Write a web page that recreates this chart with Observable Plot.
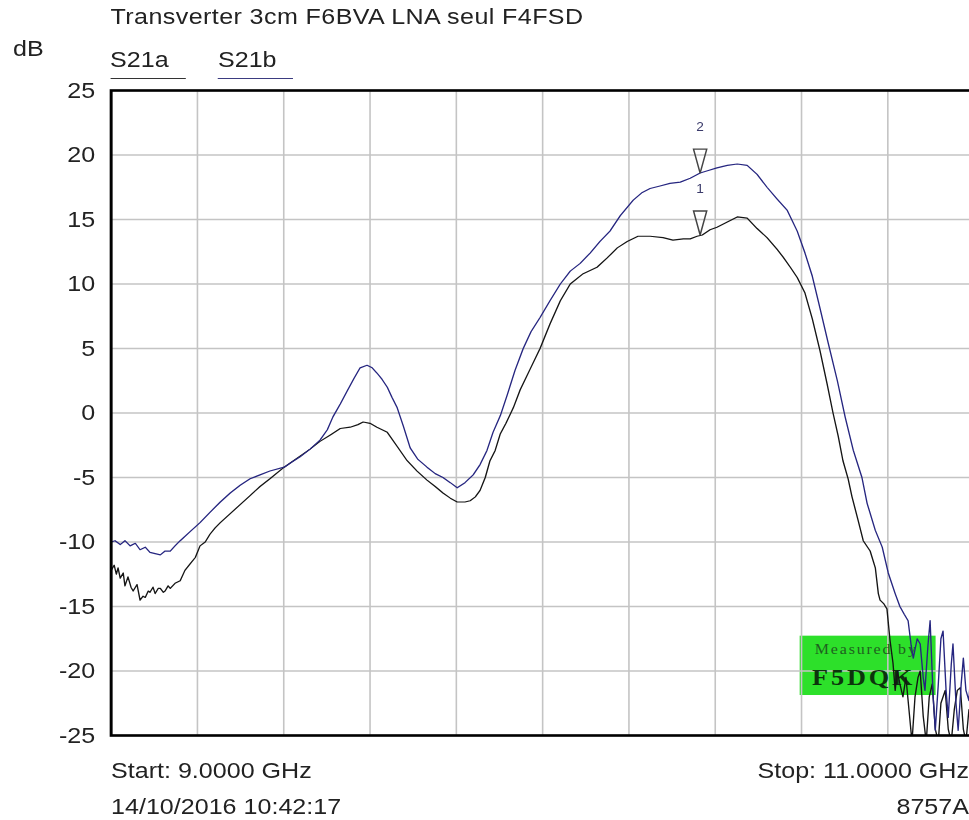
<!DOCTYPE html>
<html>
<head>
<meta charset="utf-8">
<script src="https://cdn.jsdelivr.net/npm/d3@7"></script>
<script src="https://cdn.jsdelivr.net/npm/@observablehq/plot@0.6"></script>
<style>
html, body { margin: 0; padding: 0; background: #fff; overflow: hidden; width: 969px; height: 820px; }
#wrap { position: absolute; left: 0; top: 0; width: 858px; height: 820px; transform: scaleX(1.14); transform-origin: 0 0;
        font-family: "Liberation Sans", Arial, sans-serif; color: #222; }
#wrap svg { position: absolute; left: 0; top: 0; }
.t { position: absolute; white-space: nowrap; font-size: 22px; line-height: 22px; }
.u { position: absolute; height: 0; border-top: 1.6px solid #333; }
</style>
</head>
<body>
<div id="wrap"></div>
<script>
// ---- data (frequency in MHz, magnitude in dB) ----
const freqA = [9000,9007,9012,9016,9021,9028,9032,9039,9046,9051,9060,9067,9074,9079,9086,9090,9097,9102,9109,9114,
  9121,9125,9132,9137,9148,9160,9171,9183,9195,9206,9218,9229,9241,9253,9276,9299,9322,9345,9368,9401,
  9431,9461,9484,9508,9531,9554,9572,9584,9600,9616,9640,9663,9686,9709,9732,9751,9769,9786,9802,9820,
  9832,9844,9855,9867,9878,9890,9902,9915,9932,9948,9971,9994,10017,10041,10064,10094,10126,10149,10173,10196,
  10221,10249,10279,10302,10326,10342,10358,10370,10388,10404,10428,10451,10474,10497,10520,10543,10557,10574,10590,10608,
  10625,10643,10659,10673,10685,10696,10708,10717,10731,10743,10759,10771,10778,10782,10791,10798,10805,10812,10817,10822,
  10828,10835,10842,10849,10856,10863,10870,10875,10882,10889,10896,10903,10910,10917,10923,10933,10940,10947,10954,10961,
  10968,10975,10981,10988];
const s21a = [-12.2,-11.8,-12.5,-12.0,-12.8,-12.4,-13.4,-12.7,-13.5,-13.8,
  -13.3,-14.5,-14.2,-14.3,-13.8,-13.9,-13.5,-14.0,-13.6,-13.6,
  -13.9,-13.8,-13.4,-13.6,-13.2,-13.0,-12.2,-11.7,-11.2,-10.3,
  -10.0,-9.4,-8.9,-8.5,-7.8,-7.1,-6.4,-5.7,-5.1,-4.2,
  -3.5,-2.8,-2.2,-1.7,-1.2,-1.1,-0.9,-0.7,-0.8,-1.1,
  -1.5,-2.6,-3.7,-4.5,-5.2,-5.7,-6.2,-6.6,-6.9,-6.9,
  -6.8,-6.5,-6.0,-5.0,-3.7,-2.9,-1.6,-0.8,0.4,1.8,
  3.4,5.0,6.9,8.7,10.0,10.8,11.3,12.0,12.8,13.3,
  13.7,13.7,13.6,13.4,13.5,13.5,13.7,13.8,14.2,14.4,
  14.8,15.2,15.1,14.3,13.6,12.7,12.1,11.3,10.5,9.3,
  7.3,4.8,2.3,0.0,-1.8,-3.7,-5.1,-6.5,-8.3,-9.9,
  -10.7,-12.0,-14.0,-14.5,-14.8,-15.2,-17.6,-19.4,-21.5,-20.0,
  -21.0,-22.0,-20.5,-23.0,-25.5,-22.0,-20.5,-20.0,-23.5,-25.5,
  -22.0,-21.0,-24.5,-25.5,-22.5,-21.5,-24.5,-25.5,-23.0,-21.5,
  -21.3,-24.5,-25.5,-23.0];

const freqB = [9000,9009,9021,9032,9044,9056,9067,9079,9090,9102,9114,9125,9137,9148,9160,9183,9206,9229,9253,9276,
  9299,9322,9345,9368,9401,9419,9438,9461,9484,9501,9514,9531,9547,9563,9577,9593,9605,9616,9628,9640,
  9651,9663,9677,9693,9711,9732,9751,9769,9786,9802,9820,9839,9855,9871,9885,9902,9918,9936,9955,9973,
  9994,10017,10041,10064,10087,10110,10133,10156,10180,10210,10231,10249,10272,10295,10319,10342,10365,10384,10404,10428,
  10451,10474,10497,10520,10543,10567,10590,10608,10625,10643,10662,10683,10701,10720,10740,10752,10771,10787,10801,10817,
  10828,10838,10847,10854,10859,10868,10875,10882,10886,10893,10898,10905,10910,10917,10923,10928,10935,10940,10947,10951,
  10958,10963,10970,10975,10981,10988,10995,11000];
const s21b = [-10.0,-9.9,-10.2,-9.9,-10.3,-10.1,-10.6,-10.4,-10.8,-10.9,
  -11.0,-10.7,-10.7,-10.3,-9.9,-9.2,-8.5,-7.7,-6.9,-6.2,
  -5.6,-5.1,-4.8,-4.5,-4.2,-3.8,-3.4,-2.8,-2.1,-1.3,
  -0.3,0.7,1.7,2.7,3.5,3.7,3.5,3.1,2.6,2.0,
  1.2,0.4,-1.0,-2.7,-3.6,-4.2,-4.7,-5.0,-5.4,-5.8,
  -5.4,-4.8,-4.0,-2.9,-1.5,-0.2,1.4,3.3,5.0,6.3,
  7.4,8.7,10.0,11.0,11.6,12.4,13.3,14.1,15.3,16.5,
  17.1,17.4,17.6,17.8,17.9,18.2,18.6,18.8,19.0,19.2,
  19.3,19.2,18.5,17.5,16.6,15.7,14.1,12.4,10.6,8.1,
  5.4,2.5,-0.3,-2.9,-5.0,-7.0,-9.1,-10.4,-12.4,-14.0,
  -15.0,-15.6,-16.1,-18.0,-19.0,-17.5,-17.9,-20.5,-21.5,-18.0,
  -16.1,-22.0,-24.6,-21.0,-17.5,-16.9,-21.5,-23.6,-19.5,-17.9,
  -22.5,-24.6,-21.0,-19.0,-21.5,-22.3,-18.5,-20.0];

const yTicks = [-25, -20, -15, -10, -5, 0, 5, 10, 15, 20, 25];
const xGridGHz = [9.0, 9.2, 9.4, 9.6, 9.8, 10.0, 10.2, 10.4, 10.6, 10.8, 11.0];

const markerFreq = [10365, 10365];
const markerVal = [13.8, 18.6];
const markerLabel = ["1", "2"];

const seriesNames = ["S21a", "S21b"];
const titleText = "Transverter 3cm F6BVA LNA seul F4FSD";
const yUnit = "dB";
const startText = "Start: 9.0000 GHz";
const stopText = "Stop: 11.0000 GHz";
const dateText = "14/10/2016 10:42:17";
const modelText = "8757A";
const stampLines = ["Measured by", "F5DQK"];
const stampBox = [{x1: 10597, x2: 10912, y1: -21.9, y2: -17.3}];
const stampTextPos = [{f: 10750, v: -18.3}, {f: 10744, v: -20.55}];

// ---- build tables ----
const rowsA = freqA.map((f, i) => ({f: f / 1000, v: s21a[i]}));
const rowsB = freqB.map((f, i) => ({f: f / 1000, v: s21b[i]}));
const markers = markerFreq.map((f, i) => ({f: f / 1000, v: markerVal[i], label: markerLabel[i]}));
const stampRect = stampBox.map(d => ({x1: d.x1 / 1000, x2: d.x2 / 1000, y1: d.y1, y2: d.y2}));
const stampT1 = [{f: stampTextPos[0].f / 1000, v: stampTextPos[0].v, t: stampLines[0]}];
const stampT2 = [{f: stampTextPos[1].f / 1000, v: stampTextPos[1].v, t: stampLines[1]}];

const markerSymbol = {
  draw(ctx) {
    ctx.moveTo(0, 0);
    ctx.lineTo(-5.8, -24);
    ctx.lineTo(5.8, -24);
    ctx.closePath();
  }
};

const chart = Plot.plot({
  width: 858,
  height: 745,
  marginLeft: 97,
  marginRight: 4,
  marginTop: 90,
  marginBottom: 10,
  x: {domain: [9, 11], axis: null},
  y: {domain: [-25, 25], axis: null},
  style: {fontFamily: "'Liberation Sans', Arial, sans-serif", background: "transparent", color: "#222", overflow: "visible"},
  marks: [
    Plot.rect(stampRect, {x1: "x1", x2: "x2", y1: "y1", y2: "y2", fill: "#2de02a"}),
    Plot.ruleX(xGridGHz, {stroke: "#c4c4c4", strokeWidth: 1.4}),
    Plot.ruleY(yTicks, {stroke: "#c4c4c4", strokeWidth: 1.6}),
    Plot.text(stampT1, {x: "f", y: "v", text: "t", fontFamily: "'Liberation Serif', serif", fontSize: 14, fill: "#1f5f1f"}),
    Plot.text(stampT2, {x: "f", y: "v", text: "t", fontFamily: "'Liberation Serif', serif", fontSize: 23, fontWeight: "bold", fill: "#0c330c"}),
    Plot.line(rowsA, {x: "f", y: "v", stroke: "#151515", strokeWidth: 1.2, clip: true}),
    Plot.line(rowsB, {x: "f", y: "v", stroke: "#262680", strokeWidth: 1.2, clip: true}),
    Plot.dot(markers, {x: "f", y: "v", symbol: markerSymbol, r: 5, fill: "none", stroke: "#444", strokeWidth: 1.3}),
    Plot.text(markers, {x: "f", y: "v", text: "label", dy: -46, fontSize: 12, fill: "#3a3a6a"}),
    Plot.axisY(yTicks, {tickSize: 0, tickPadding: 14, fontSize: 22, label: null, fill: "#222", tickFormat: d => String(d)}),
    Plot.frame({stroke: "#000", strokeWidth: 2.6})
  ]
});

const wrap = document.getElementById("wrap");
wrap.appendChild(chart);

// stamp letter spacing
chart.querySelectorAll("text").forEach(t => {
  if (t.textContent === stampLines[1]) t.setAttribute("letter-spacing", "2.5");
  if (t.textContent === stampLines[0]) t.setAttribute("letter-spacing", "1.6");
});

function addText(txt, style) {
  const d = document.createElement("div");
  d.className = "t";
  d.textContent = txt;
  Object.assign(d.style, style);
  wrap.appendChild(d);
  return d;
}
addText(titleText, {left: "97px", top: "6.4px", letterSpacing: "0.35px"});
addText(yUnit, {left: "11.4px", top: "38.4px"});
addText(seriesNames[0], {left: "96.5px", top: "49.4px"});
addText(seriesNames[1], {left: "191.2px", top: "49.4px"});
const u1 = document.createElement("div"); u1.className = "u";
Object.assign(u1.style, {left: "96.5px", width: "66px", top: "77.5px", borderTopColor: "#333"});
wrap.appendChild(u1);
const u2 = document.createElement("div"); u2.className = "u";
Object.assign(u2.style, {left: "191.2px", width: "66px", top: "77.5px", borderTopColor: "#3b3b80"});
wrap.appendChild(u2);
addText(startText, {left: "97.4px", top: "760.4px"});
addText(dateText, {left: "97.4px", top: "796.4px"});
addText(stopText, {right: "8px", top: "760.4px", textAlign: "right"});
addText(modelText, {right: "8px", top: "796.4px", textAlign: "right"});
</script>
</body>
</html>
